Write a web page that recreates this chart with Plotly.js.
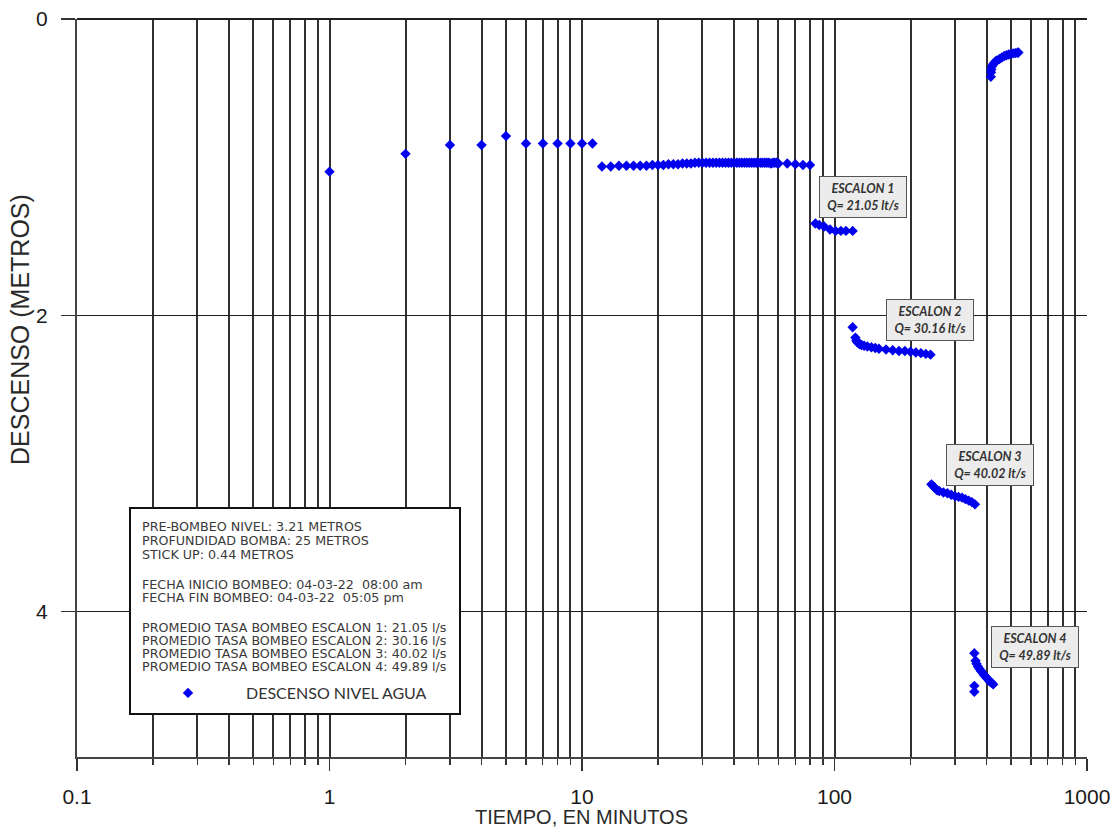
<!DOCTYPE html>
<html>
<head>
<meta charset="utf-8">
<script src="https://cdn.plot.ly/plotly-3.0.1.min.js"></script>
<style>
html,body{margin:0;padding:0;background:#ffffff;}
#chart{width:1117px;height:830px;}
</style>
</head>
<body>
<div id="chart"></div>
<script>
// ---------------- DATA (tiempo en minutos, descenso en metros) ----------------
const tiempoInicial   = [1, 2, 3, 4, 5, 6, 7, 8, 9, 10, 11];
const descensoInicial = [1.03, 0.91, 0.85, 0.85, 0.79, 0.84, 0.84, 0.84, 0.84, 0.84, 0.84];

const tiempoTramo = [12,13,14,15,16,17,18,19,20,21,22,23,24,25,26,27,28,29,30,
  31,32,33,34,35,36,37,38,39,40,41,42,43,44,45,46,47,48,49,50,
  51,52,53,54,55,56,57,58,59,60,65,70,75,80];
const descensoTramo = [0.995,0.995,0.99,0.99,0.99,0.99,0.99,0.985,0.985,0.985,0.98,0.98,0.98,0.975,0.975,0.975,0.97,0.97,0.97,
  0.97,0.97,0.97,0.97,0.97,0.97,0.97,0.97,0.97,0.97,0.97,0.97,0.97,0.97,0.97,0.97,0.97,0.97,0.97,0.97,
  0.97,0.97,0.97,0.97,0.97,0.975,0.97,0.97,0.97,0.975,0.975,0.98,0.985,0.985];

const tiempoEscalon1   = [84, 87, 91, 96, 101, 106, 111, 118];
const descensoEscalon1 = [1.38, 1.39, 1.40, 1.42, 1.43, 1.43, 1.43, 1.43];

const tiempoEscalon2   = [118, 121, 122, 123, 124, 125, 126, 128, 131, 135, 140, 145, 150, 160, 170, 180, 190, 200, 210, 220, 230, 240];
const descensoEscalon2 = [2.08, 2.15, 2.17, 2.18, 2.185, 2.19, 2.195, 2.20, 2.205, 2.21, 2.215, 2.22, 2.225, 2.23, 2.235, 2.24, 2.24, 2.245, 2.25, 2.255, 2.26, 2.265];

const tiempoEscalon3   = [242, 245, 250, 255, 260, 270, 280, 290, 300, 310, 320, 330, 340, 350, 360];
const descensoEscalon3 = [3.14, 3.15, 3.165, 3.18, 3.185, 3.195, 3.20, 3.21, 3.22, 3.225, 3.23, 3.24, 3.25, 3.26, 3.275];

const tiempoEscalon4   = [358, 358, 358, 362, 365, 370, 375, 380, 385, 390, 395, 400, 405, 410, 415, 420, 425];
const descensoEscalon4 = [4.28, 4.50, 4.54, 4.33, 4.35, 4.37, 4.385, 4.40, 4.41, 4.425, 4.435, 4.445, 4.455, 4.465, 4.475, 4.48, 4.49];

const tiempoRecuperacion   = [416, 417, 418, 420, 425, 430, 435, 440, 450, 460, 470, 480, 490, 500, 510, 520, 530, 535];
const descensoRecuperacion = [0.39, 0.36, 0.34, 0.32, 0.305, 0.295, 0.285, 0.28, 0.27, 0.26, 0.25, 0.245, 0.24, 0.235, 0.232, 0.23, 0.228, 0.226];

const xTicks      = [0.1, 1, 10, 100, 1000];
const xTickLabels = ['0.1', '1', '10', '100', '1000'];
const yTicks      = [0, 2, 4];
const yTickLabels = ['0', '2', '4'];

const serieNombre = 'DESCENSO NIVEL AGUA';
const tituloX = 'TIEMPO, EN MINUTOS';
const tituloY = 'DESCENSO (METROS)';
const escalonTextos = [
  '<b><i>ESCALON 1</i></b><br><b><i>Q= 21.05 lt/s</i></b>',
  '<b><i>ESCALON 2</i></b><br><b><i>Q= 30.16 lt/s</i></b>',
  '<b><i>ESCALON 3</i></b><br><b><i>Q= 40.02 lt/s</i></b>',
  '<b><i>ESCALON 4</i></b><br><b><i>Q= 49.89 lt/s</i></b>'
];
const notasCaja = [
  'PRE-BOMBEO NIVEL: 3.21 METROS',
  'PROFUNDIDAD BOMBA: 25 METROS',
  'STICK UP: 0.44 METROS',
  'FECHA INICIO BOMBEO: 04-03-22  08:00 am',
  'FECHA FIN BOMBEO: 04-03-22  05:05 pm',
  'PROMEDIO TASA BOMBEO ESCALON 1: 21.05 l/s',
  'PROMEDIO TASA BOMBEO ESCALON 2: 30.16 l/s',
  'PROMEDIO TASA BOMBEO ESCALON 3: 40.02 l/s',
  'PROMEDIO TASA BOMBEO ESCALON 4: 49.89 l/s'
];

// ---------------- LAYOUT HELPERS (pixel -> paper) ----------------
const L = 77, R = 30, T = 19, B = 73, W = 1117, H = 830;
const PW = W - L - R, PH = H - T - B;
const fx = px => (px - L) / PW;
const fy = py => (H - B - py) / PH;

const x = [].concat(tiempoInicial, tiempoTramo, tiempoEscalon1, tiempoEscalon2, tiempoEscalon3, tiempoEscalon4, tiempoRecuperacion);
const y = [].concat(descensoInicial, descensoTramo, descensoEscalon1, descensoEscalon2, descensoEscalon3, descensoEscalon4, descensoRecuperacion);

const trace = {
  type: 'scatter', mode: 'markers', x: x, y: y, name: serieNombre,
  marker: {symbol: 'diamond', size: 8, color: '#0000ee', line: {width: 0}},
  showlegend: true
};

const gridCol = '#303030';
const sansFont = '"Liberation Sans", Arial, sans-serif';
const axisFont = {family: sansFont, size: 21, color: '#1a1a1a'};

const escalonPos = [[863, 197], [930, 320], [990, 465], [1035, 647]];
const annotations = [];
escalonTextos.forEach((t, i) => {
  annotations.push({
    xref: 'paper', yref: 'paper', x: fx(escalonPos[i][0]), y: fy(escalonPos[i][1]),
    xanchor: 'center', yanchor: 'middle', text: t, showarrow: false,
    font: {family: 'Lato, "Liberation Sans", sans-serif', size: 12.5, color: '#333333'},
    bgcolor: '#ececec', bordercolor: '#555555', borderwidth: 1, borderpad: 3,
    width: 80, height: 34, align: 'center'
  });
});
const lineasY = [526.5, 540, 554, 584, 597, 627, 640, 653, 666];
notasCaja.forEach((t, i) => {
  annotations.push({
    xref: 'paper', yref: 'paper', x: fx(140), y: fy(lineasY[i]),
    xanchor: 'left', yanchor: 'middle', text: t, showarrow: false,
    font: {family: '"DejaVu Sans", sans-serif', size: 12.7, color: '#3a3a3a'}
  });
});
annotations.push({
  xref: 'paper', yref: 'paper', x: fx(20), y: fy(330), xanchor: 'center', yanchor: 'middle',
  text: tituloY, textangle: -90, showarrow: false,
  font: {family: sansFont, size: 25, color: '#2a2a2a'}
});
annotations.push({
  xref: 'paper', yref: 'paper', x: fx(581), y: fy(817), xanchor: 'center', yanchor: 'middle',
  text: tituloX, showarrow: false,
  font: {family: sansFont, size: 20, color: '#2a2a2a'}
});

const layout = {
  width: W, height: H,
  margin: {l: L, r: R, t: T, b: B},
  paper_bgcolor: '#ffffff', plot_bgcolor: '#ffffff',
  xaxis: {
    type: 'log', range: [-1, 3], autorange: false,
    tickvals: xTicks, ticktext: xTickLabels,
    ticks: 'outside', ticklen: 12, tickwidth: 1.2, tickcolor: '#333333',
    ticklabelstandoff: 8,
    showline: true, linecolor: '#444444', linewidth: 2,
    showgrid: true, gridcolor: gridCol, gridwidth: 2,
    minor: {dtick: 'D1', ticks: 'outside', ticklen: 6, tickcolor: '#333333', tickwidth: 1.2,
            showgrid: true, gridcolor: gridCol, gridwidth: 2},
    tickfont: axisFont, zeroline: false
  },
  yaxis: {
    range: [4.98, 0], autorange: false,
    tickvals: yTicks, ticktext: yTickLabels,
    ticks: 'outside', ticklen: 14, tickwidth: 1.2, tickcolor: '#333333',
    ticklabelstandoff: 9,
    showline: true, linecolor: '#444444', linewidth: 2,
    showgrid: true, gridcolor: '#1e1e1e', gridwidth: 1.3,
    zeroline: true, zerolinecolor: '#1e1e1e', zerolinewidth: 1.5,
    tickfont: axisFont
  },
  showlegend: true,
  legend: {
    x: fx(130), y: fy(693), xanchor: 'left', yanchor: 'middle',
    bgcolor: 'rgba(0,0,0,0)', borderwidth: 0, itemwidth: 106,
    font: {family: 'Lato, "Liberation Sans", sans-serif', size: 16, color: '#333333'}
  },
  shapes: [{
    type: 'rect', xref: 'paper', yref: 'paper',
    x0: fx(130), x1: fx(460), y0: fy(714), y1: fy(508),
    line: {color: '#111111', width: 2}, fillcolor: '#ffffff', layer: 'above'
  }],
  annotations: annotations
};

Plotly.newPlot('chart', [trace], layout, {displayModeBar: false, staticPlot: true});
</script>
</body>
</html>
